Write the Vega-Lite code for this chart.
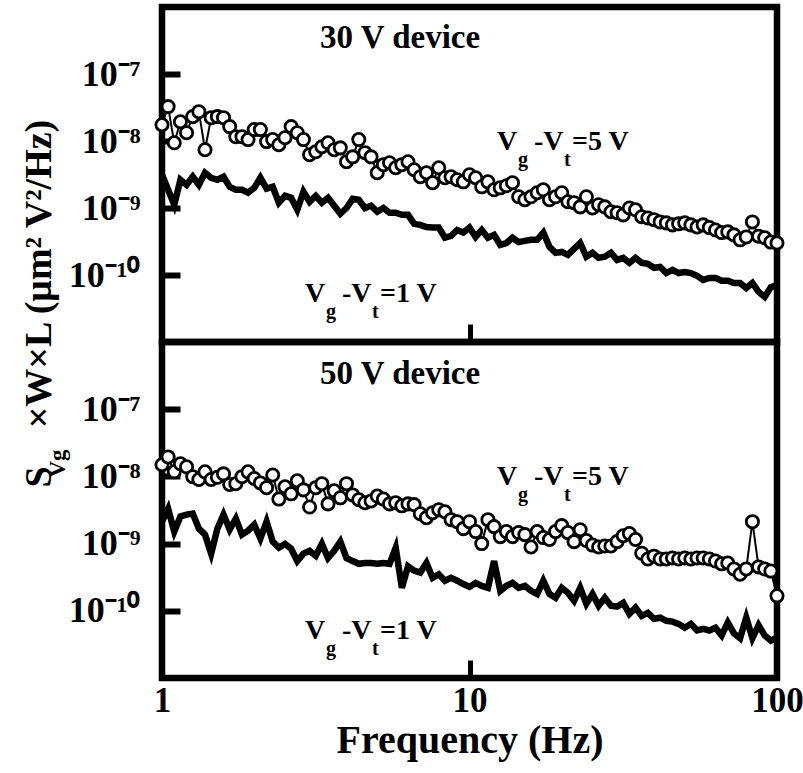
{
  "$schema": "https://vega.github.io/schema/vega-lite/v6.json",
  "padding": {"left": 16, "top": 3, "right": 0, "bottom": 0},
  "background": "white",
  "spacing": 0,
  "bounds": "flush",
  "config": {
    "font": "Liberation Serif",
    "view": {"stroke": "black", "strokeWidth": 6.5},
    "axis": {"labelFont": "Liberation Serif", "labelFontWeight": "bold", "labelColor": "black", "titleFont": "Liberation Serif", "titleFontWeight": "bold", "titleColor": "black", "grid": false, "domain": false, "tickColor": "black", "tickWidth": 6, "tickSize": -18, "labelFlush": false, "labelOverlap": false},
    "text": {"font": "Liberation Serif", "fontWeight": "bold", "color": "black"}
  },
  "datasets": {
    "t5": [{"f":1,"v":1.75e-8},{"f":1.047,"v":3.26e-8},{"f":1.096,"v":9.4e-9},{"f":1.148,"v":1.94e-8},{"f":1.202,"v":1.33e-8},{"f":1.259,"v":2.31e-8},{"f":1.318,"v":2.74e-8},{"f":1.38,"v":7.4e-9},{"f":1.445,"v":2.23e-8},{"f":1.514,"v":2.31e-8},{"f":1.585,"v":2.23e-8},{"f":1.66,"v":1.64e-8},{"f":1.738,"v":1.16e-8},{"f":1.82,"v":1.16e-8},{"f":1.905,"v":1.05e-8},{"f":1.995,"v":1.48e-8},{"f":2.089,"v":1.48e-8},{"f":2.188,"v":9.8e-9},{"f":2.291,"v":1.05e-8},{"f":2.399,"v":8.8e-9},{"f":2.512,"v":1.12e-8},{"f":2.63,"v":1.64e-8},{"f":2.754,"v":1.33e-8},{"f":2.884,"v":1.05e-8},{"f":3.02,"v":6.25e-9},{"f":3.162,"v":6.9e-9},{"f":3.311,"v":8.2e-9},{"f":3.467,"v":9.4e-9},{"f":3.631,"v":7.4e-9},{"f":3.802,"v":7.9e-9},{"f":3.981,"v":4.9e-9},{"f":4.169,"v":5.8e-9},{"f":4.365,"v":1.05e-8},{"f":4.571,"v":6.7e-9},{"f":4.786,"v":5.8e-9},{"f":5.012,"v":3.36e-9},{"f":5.248,"v":4.43e-9},{"f":5.495,"v":4.74e-9},{"f":5.754,"v":3.99e-9},{"f":6.026,"v":4.43e-9},{"f":6.31,"v":4.9e-9},{"f":6.607,"v":3.72e-9},{"f":6.918,"v":2.93e-9},{"f":7.244,"v":3.36e-9},{"f":7.586,"v":2.38e-9},{"f":7.943,"v":3.99e-9},{"f":8.318,"v":2.83e-9},{"f":8.71,"v":2.93e-9},{"f":9.12,"v":2.64e-9},{"f":9.55,"v":2.46e-9},{"f":10,"v":3.14e-9},{"f":10.47,"v":2.83e-9},{"f":10.96,"v":2.07e-9},{"f":11.48,"v":2.46e-9},{"f":12.02,"v":1.87e-9},{"f":12.59,"v":2.0e-9},{"f":13.18,"v":2.15e-9},{"f":13.8,"v":2.38e-9},{"f":14.45,"v":1.47e-9},{"f":15.14,"v":1.33e-9},{"f":15.85,"v":1.47e-9},{"f":16.6,"v":1.69e-9},{"f":17.38,"v":1.87e-9},{"f":18.2,"v":1.33e-9},{"f":19.05,"v":1.47e-9},{"f":19.95,"v":1.69e-9},{"f":20.89,"v":1.24e-9},{"f":21.88,"v":1.2e-9},{"f":22.91,"v":1.04e-9},{"f":23.99,"v":1.47e-9},{"f":25.12,"v":1.0e-9},{"f":26.3,"v":1.12e-9},{"f":27.54,"v":1.04e-9},{"f":28.84,"v":8.8e-10},{"f":30.2,"v":8.5e-10},{"f":31.62,"v":7.9e-10},{"f":33.11,"v":1.0e-9},{"f":34.67,"v":9.4e-10},{"f":36.31,"v":7.4e-10},{"f":38.02,"v":7.1e-10},{"f":39.81,"v":6.7e-10},{"f":41.69,"v":6.2e-10},{"f":43.65,"v":6.0e-10},{"f":45.71,"v":5.6e-10},{"f":47.86,"v":5.8e-10},{"f":50.12,"v":6.0e-10},{"f":52.48,"v":5.6e-10},{"f":54.95,"v":5.2e-10},{"f":57.54,"v":5.6e-10},{"f":60.26,"v":5.1e-10},{"f":63.1,"v":4.7e-10},{"f":66.07,"v":4.3e-10},{"f":69.18,"v":4.4e-10},{"f":72.44,"v":3.97e-10},{"f":75.86,"v":3.35e-10},{"f":79.43,"v":3.7e-10},{"f":83.18,"v":6.2e-10},{"f":87.1,"v":3.8e-10},{"f":91.2,"v":3.6e-10},{"f":95.5,"v":3.1e-10},{"f":100,"v":3.0e-10}],
    "t1": [{"f":1,"v":3.14e-9},{"f":1.047,"v":1.87e-9},{"f":1.096,"v":1.12e-9},{"f":1.148,"v":2.64e-9},{"f":1.202,"v":2.22e-9},{"f":1.259,"v":2.93e-9},{"f":1.318,"v":2.22e-9},{"f":1.38,"v":3.36e-9},{"f":1.445,"v":2.83e-9},{"f":1.514,"v":2.64e-9},{"f":1.585,"v":2.93e-9},{"f":1.66,"v":2.07e-9},{"f":1.738,"v":1.87e-9},{"f":1.82,"v":1.87e-9},{"f":1.905,"v":1.69e-9},{"f":1.995,"v":2.0e-9},{"f":2.089,"v":2.83e-9},{"f":2.188,"v":1.94e-9},{"f":2.291,"v":2.07e-9},{"f":2.399,"v":1.2e-9},{"f":2.512,"v":1.52e-9},{"f":2.63,"v":1.42e-9},{"f":2.754,"v":9.4e-10},{"f":2.884,"v":1.75e-9},{"f":3.02,"v":1.24e-9},{"f":3.162,"v":1.52e-9},{"f":3.311,"v":1.2e-9},{"f":3.467,"v":1.42e-9},{"f":3.631,"v":1.08e-9},{"f":3.802,"v":8.2e-10},{"f":3.981,"v":1.0e-9},{"f":4.169,"v":1.37e-9},{"f":4.365,"v":1.33e-9},{"f":4.571,"v":1.0e-9},{"f":4.786,"v":1.08e-9},{"f":5.012,"v":8.8e-10},{"f":5.248,"v":1.0e-9},{"f":5.495,"v":8.5e-10},{"f":5.754,"v":8.5e-10},{"f":6.026,"v":7.9e-10},{"f":6.31,"v":7.9e-10},{"f":6.607,"v":5.8e-10},{"f":6.918,"v":5.6e-10},{"f":7.244,"v":5.2e-10},{"f":7.586,"v":5.1e-10},{"f":7.943,"v":5.1e-10},{"f":8.318,"v":3.6e-10},{"f":8.71,"v":3.85e-10},{"f":9.12,"v":4.7e-10},{"f":9.55,"v":4.3e-10},{"f":10,"v":5.1e-10},{"f":10.47,"v":3.7e-10},{"f":10.96,"v":4.7e-10},{"f":11.48,"v":3.6e-10},{"f":12.02,"v":3.97e-10},{"f":12.59,"v":2.82e-10},{"f":13.18,"v":3.0e-10},{"f":13.8,"v":3.6e-10},{"f":14.45,"v":3.1e-10},{"f":15.14,"v":3.23e-10},{"f":15.85,"v":3.35e-10},{"f":16.6,"v":3.35e-10},{"f":17.38,"v":4.3e-10},{"f":18.2,"v":2.63e-10},{"f":19.05,"v":2.14e-10},{"f":19.95,"v":2.21e-10},{"f":20.89,"v":2.0e-10},{"f":21.88,"v":2.45e-10},{"f":22.91,"v":3.0e-10},{"f":23.99,"v":1.87e-10},{"f":25.12,"v":2.14e-10},{"f":26.3,"v":1.8e-10},{"f":27.54,"v":1.87e-10},{"f":28.84,"v":2.14e-10},{"f":30.2,"v":1.68e-10},{"f":31.62,"v":1.8e-10},{"f":33.11,"v":1.52e-10},{"f":34.67,"v":1.8e-10},{"f":36.31,"v":1.52e-10},{"f":38.02,"v":1.47e-10},{"f":39.81,"v":1.28e-10},{"f":41.69,"v":1.32e-10},{"f":43.65,"v":1.07e-10},{"f":45.71,"v":1.19e-10},{"f":47.86,"v":1.07e-10},{"f":50.12,"v":1.11e-10},{"f":52.48,"v":1.07e-10},{"f":54.95,"v":9.7e-11},{"f":57.54,"v":8.45e-11},{"f":60.26,"v":9.05e-11},{"f":63.1,"v":9.05e-11},{"f":66.07,"v":8.2e-11},{"f":69.18,"v":8.2e-11},{"f":72.44,"v":7.6e-11},{"f":75.86,"v":7.6e-11},{"f":79.43,"v":6.4e-11},{"f":83.18,"v":7.6e-11},{"f":87.1,"v":5.6e-11},{"f":91.2,"v":4.7e-11},{"f":95.5,"v":6.6e-11},{"f":100,"v":7.1e-11}],
    "b5": [{"f":1,"v":1.49e-8},{"f":1.047,"v":1.95e-8},{"f":1.096,"v":1.17e-8},{"f":1.148,"v":1.54e-8},{"f":1.202,"v":1.39e-8},{"f":1.259,"v":9.9e-9},{"f":1.318,"v":9.0e-9},{"f":1.38,"v":1.17e-8},{"f":1.445,"v":9.0e-9},{"f":1.514,"v":9.7e-9},{"f":1.585,"v":1.09e-8},{"f":1.66,"v":7.6e-9},{"f":1.738,"v":7.8e-9},{"f":1.82,"v":9.9e-9},{"f":1.905,"v":1.17e-8},{"f":1.995,"v":9.3e-9},{"f":2.089,"v":8.0e-9},{"f":2.188,"v":6.8e-9},{"f":2.291,"v":1.05e-8},{"f":2.399,"v":4.6e-9},{"f":2.512,"v":7.0e-9},{"f":2.63,"v":5.5e-9},{"f":2.754,"v":8.6e-9},{"f":2.884,"v":6.3e-9},{"f":3.02,"v":3.5e-9},{"f":3.162,"v":6.8e-9},{"f":3.311,"v":7.8e-9},{"f":3.467,"v":3.9e-9},{"f":3.631,"v":6.1e-9},{"f":3.802,"v":4.8e-9},{"f":3.981,"v":7.8e-9},{"f":4.169,"v":5.3e-9},{"f":4.365,"v":4.5e-9},{"f":4.571,"v":4.05e-9},{"f":4.786,"v":4.3e-9},{"f":5.012,"v":5.1e-9},{"f":5.248,"v":4.6e-9},{"f":5.495,"v":3.9e-9},{"f":5.754,"v":4.05e-9},{"f":6.026,"v":3.65e-9},{"f":6.31,"v":3.9e-9},{"f":6.607,"v":3.8e-9},{"f":6.918,"v":2.78e-9},{"f":7.244,"v":2.43e-9},{"f":7.586,"v":2.88e-9},{"f":7.943,"v":3.19e-9},{"f":8.318,"v":2.98e-9},{"f":8.71,"v":2.27e-9},{"f":9.12,"v":2.12e-9},{"f":9.55,"v":1.67e-9},{"f":10,"v":2.12e-9},{"f":10.47,"v":1.51e-9},{"f":10.96,"v":1.0e-9},{"f":11.48,"v":2.27e-9},{"f":12.02,"v":1.79e-9},{"f":12.59,"v":1.27e-9},{"f":13.18,"v":1.51e-9},{"f":13.8,"v":1.27e-9},{"f":14.45,"v":1.46e-9},{"f":15.14,"v":1.36e-9},{"f":15.85,"v":8.9e-10},{"f":16.6,"v":1.51e-9},{"f":17.38,"v":1.23e-9},{"f":18.2,"v":1.15e-9},{"f":19.05,"v":1.51e-9},{"f":19.95,"v":1.85e-9},{"f":20.89,"v":1.46e-9},{"f":21.88,"v":1.07e-9},{"f":22.91,"v":1.61e-9},{"f":23.99,"v":1.11e-9},{"f":25.12,"v":9.5e-10},{"f":26.3,"v":8.9e-10},{"f":27.54,"v":9.2e-10},{"f":28.84,"v":9.2e-10},{"f":30.2,"v":1.07e-9},{"f":31.62,"v":1.31e-9},{"f":33.11,"v":1.41e-9},{"f":34.67,"v":1.15e-9},{"f":36.31,"v":7.2e-10},{"f":38.02,"v":5.9e-10},{"f":39.81,"v":6.5e-10},{"f":41.69,"v":5.9e-10},{"f":43.65,"v":5.9e-10},{"f":45.71,"v":6.1e-10},{"f":47.86,"v":5.9e-10},{"f":50.12,"v":6.1e-10},{"f":52.48,"v":5.9e-10},{"f":54.95,"v":6.1e-10},{"f":57.54,"v":6.1e-10},{"f":60.26,"v":5.9e-10},{"f":63.1,"v":5.5e-10},{"f":66.07,"v":5.0e-10},{"f":69.18,"v":5.15e-10},{"f":72.44,"v":4.2e-10},{"f":75.86,"v":3.5e-10},{"f":79.43,"v":4.2e-10},{"f":83.18,"v":2.12e-9},{"f":87.1,"v":4.5e-10},{"f":91.2,"v":4.2e-10},{"f":95.5,"v":3.9e-10},{"f":100,"v":1.67e-10}],
    "b1": [{"f":1,"v":2.13e-9},{"f":1.047,"v":3.3e-9},{"f":1.096,"v":1.51e-9},{"f":1.148,"v":2.53e-9},{"f":1.202,"v":2.7e-9},{"f":1.259,"v":2.8e-9},{"f":1.318,"v":1.67e-9},{"f":1.38,"v":1.36e-9},{"f":1.445,"v":7.1e-10},{"f":1.514,"v":1.67e-9},{"f":1.585,"v":2.7e-9},{"f":1.66,"v":1.62e-9},{"f":1.738,"v":2.36e-9},{"f":1.82,"v":1.36e-9},{"f":1.905,"v":1.56e-9},{"f":1.995,"v":1.92e-9},{"f":2.089,"v":1.19e-9},{"f":2.188,"v":2.13e-9},{"f":2.291,"v":1.07e-9},{"f":2.399,"v":8.7e-10},{"f":2.512,"v":9.9e-10},{"f":2.63,"v":8.4e-10},{"f":2.754,"v":5.5e-10},{"f":2.884,"v":7.1e-10},{"f":3.02,"v":7.8e-10},{"f":3.162,"v":6.6e-10},{"f":3.311,"v":9.9e-10},{"f":3.467,"v":6.1e-10},{"f":3.631,"v":7.8e-10},{"f":3.802,"v":1.07e-9},{"f":3.981,"v":6.1e-10},{"f":4.169,"v":5.5e-10},{"f":4.365,"v":5.0e-10},{"f":4.571,"v":5.15e-10},{"f":4.786,"v":5.15e-10},{"f":5.012,"v":5.0e-10},{"f":5.248,"v":5.15e-10},{"f":5.495,"v":5.0e-10},{"f":5.754,"v":8.7e-10},{"f":6.026,"v":2.2e-10},{"f":6.31,"v":4.6e-10},{"f":6.607,"v":3.96e-10},{"f":6.918,"v":3.7e-10},{"f":7.244,"v":5.15e-10},{"f":7.586,"v":3.1e-10},{"f":7.943,"v":3.5e-10},{"f":8.318,"v":2.8e-10},{"f":8.71,"v":3.1e-10},{"f":9.12,"v":2.8e-10},{"f":9.55,"v":2.5e-10},{"f":10,"v":2.27e-10},{"f":10.47,"v":2.6e-10},{"f":10.96,"v":2.35e-10},{"f":11.48,"v":2.2e-10},{"f":12.02,"v":5.5e-10},{"f":12.59,"v":1.98e-10},{"f":13.18,"v":2.35e-10},{"f":13.8,"v":2.6e-10},{"f":14.45,"v":2.2e-10},{"f":15.14,"v":2.35e-10},{"f":15.85,"v":1.98e-10},{"f":16.6,"v":1.78e-10},{"f":17.38,"v":2.8e-10},{"f":18.2,"v":1.78e-10},{"f":19.05,"v":1.56e-10},{"f":19.95,"v":2.2e-10},{"f":20.89,"v":1.85e-10},{"f":21.88,"v":1.41e-10},{"f":22.91,"v":2.2e-10},{"f":23.99,"v":1.27e-10},{"f":25.12,"v":1.78e-10},{"f":26.3,"v":1.19e-10},{"f":27.54,"v":1.56e-10},{"f":28.84,"v":1.19e-10},{"f":30.2,"v":1.15e-10},{"f":31.62,"v":1.31e-10},{"f":33.11,"v":9.0e-11},{"f":34.67,"v":1.11e-10},{"f":36.31,"v":8.4e-11},{"f":38.02,"v":9.3e-11},{"f":39.81,"v":7.6e-11},{"f":41.69,"v":7.9e-11},{"f":43.65,"v":7.1e-11},{"f":45.71,"v":6.9e-11},{"f":47.86,"v":6.4e-11},{"f":50.12,"v":5.6e-11},{"f":52.48,"v":6.4e-11},{"f":54.95,"v":5.1e-11},{"f":57.54,"v":5.4e-11},{"f":60.26,"v":5.1e-11},{"f":63.1,"v":5.6e-11},{"f":66.07,"v":4.3e-11},{"f":69.18,"v":6.7e-11},{"f":72.44,"v":4.6e-11},{"f":75.86,"v":3.9e-11},{"f":79.43,"v":7.9e-11},{"f":83.18,"v":3.9e-11},{"f":87.1,"v":6.1e-11},{"f":91.2,"v":4.3e-11},{"f":95.5,"v":3.6e-11},{"f":100,"v":4.0e-11}],
    "tdev": [{"f":3.265,"v":2.48e-7,"label":"30 V device"}],
    "bdev": [{"f":3.265,"v":2.35e-7,"label":"50 V device"}],
    "tlab": [{"f":12.29,"v":7.4e-9,"tail":"=5 V"},{"f":2.917,"v":3.96e-11,"tail":"=1 V"}],
    "blab": [{"f":12.29,"v":7.5e-9,"tail":"=5 V"},{"f":2.917,"v":3.8e-11,"tail":"=1 V"}]
  },
  "vconcat": [
    {
      "width": 615,
      "height": 335,
      "encoding": {
        "x": {"field": "f", "type": "quantitative", "scale": {"type": "log", "domain": [1, 100], "nice": false}, "axis": {"values": [10], "labels": false, "title": null, "tickWidth": 5}},
        "y": {"field": "v", "type": "quantitative", "scale": {"type": "log", "domain": [1e-11, 1e-6], "nice": false}, "axis": {"values": [1e-10, 1e-9, 1e-8, 1e-7], "labelFontSize": 36, "labelPadding": 40, "labelExpr": "datum.value < 5e-10 ? '10⁻¹⁰' : datum.value < 5e-9 ? '10⁻⁹' : datum.value < 5e-8 ? '10⁻⁸' : '10⁻⁷'", "title": "S\u00a0\u00a0\u00a0\u00a0×W×L (μm² V²/Hz)", "titleFontSize": 38, "titleAngle": 270, "titleAlign": "left", "titleBaseline": "alphabetic", "titleX": -112, "titleY": 480}}
      },
      "layer": [
        {"data": {"name": "t5"}, "mark": {"type": "line", "color": "black", "strokeWidth": 2}},
        {"data": {"name": "t5"}, "mark": {"type": "point", "shape": "circle", "size": 150, "filled": true, "fill": "white", "stroke": "black", "strokeWidth": 2.8, "opacity": 1}},
        {"data": {"name": "t1"}, "mark": {"type": "line", "color": "black", "strokeWidth": 6.5, "strokeJoin": "miter"}},
        {"data": {"name": "tdev"}, "mark": {"type": "text", "fontSize": 33, "align": "left", "baseline": "alphabetic"}, "encoding": {"text": {"field": "label"}}},
        {"data": {"name": "tlab"}, "mark": {"type": "text", "fontSize": 28, "align": "left", "baseline": "alphabetic", "text": "V"}},
        {"data": {"name": "tlab"}, "mark": {"type": "text", "fontSize": 20, "align": "left", "baseline": "alphabetic", "text": "g", "dx": 21, "dy": 16}},
        {"data": {"name": "tlab"}, "mark": {"type": "text", "fontSize": 28, "align": "left", "baseline": "alphabetic", "text": "-V", "dx": 37}},
        {"data": {"name": "tlab"}, "mark": {"type": "text", "fontSize": 20, "align": "left", "baseline": "alphabetic", "text": "t", "dx": 67, "dy": 16}},
        {"data": {"name": "tlab"}, "mark": {"type": "text", "fontSize": 28, "align": "left", "baseline": "alphabetic", "dx": 75}, "encoding": {"text": {"field": "tail"}}}
      ]
    },
    {
      "width": 615,
      "height": 336,
      "encoding": {
        "x": {"field": "f", "type": "quantitative", "scale": {"type": "log", "domain": [1, 100], "nice": false}, "axis": {"values": [1, 10, 100], "tickWidth": 5, "labelFontSize": 35, "labelPadding": 23, "labelExpr": "format(datum.value, '.0f')", "title": "Frequency (Hz)", "titleFontSize": 40, "titleBaseline": "alphabetic", "titleY": 74}},
        "y": {"field": "v", "type": "quantitative", "scale": {"type": "log", "domain": [1e-11, 1e-6], "nice": false}, "axis": {"values": [1e-10, 1e-9, 1e-8, 1e-7], "labelFontSize": 36, "labelPadding": 40, "labelExpr": "datum.value < 5e-10 ? '10⁻¹⁰' : datum.value < 5e-9 ? '10⁻⁹' : datum.value < 5e-8 ? '10⁻⁸' : '10⁻⁷'", "title": "Vg", "titleFontSize": 23, "titleAngle": 270, "titleAlign": "left", "titleBaseline": "alphabetic", "titleX": -98, "titleY": 135}}
      },
      "layer": [
        {"data": {"name": "b5"}, "mark": {"type": "line", "color": "black", "strokeWidth": 2}},
        {"data": {"name": "b5"}, "mark": {"type": "point", "shape": "circle", "size": 150, "filled": true, "fill": "white", "stroke": "black", "strokeWidth": 2.8, "opacity": 1}},
        {"data": {"name": "b1"}, "mark": {"type": "line", "color": "black", "strokeWidth": 6.5, "strokeJoin": "miter"}},
        {"data": {"name": "bdev"}, "mark": {"type": "text", "fontSize": 33, "align": "left", "baseline": "alphabetic"}, "encoding": {"text": {"field": "label"}}},
        {"data": {"name": "blab"}, "mark": {"type": "text", "fontSize": 28, "align": "left", "baseline": "alphabetic", "text": "V"}},
        {"data": {"name": "blab"}, "mark": {"type": "text", "fontSize": 20, "align": "left", "baseline": "alphabetic", "text": "g", "dx": 21, "dy": 16}},
        {"data": {"name": "blab"}, "mark": {"type": "text", "fontSize": 28, "align": "left", "baseline": "alphabetic", "text": "-V", "dx": 37}},
        {"data": {"name": "blab"}, "mark": {"type": "text", "fontSize": 20, "align": "left", "baseline": "alphabetic", "text": "t", "dx": 67, "dy": 16}},
        {"data": {"name": "blab"}, "mark": {"type": "text", "fontSize": 28, "align": "left", "baseline": "alphabetic", "dx": 75}, "encoding": {"text": {"field": "tail"}}}
      ]
    }
  ]
}
